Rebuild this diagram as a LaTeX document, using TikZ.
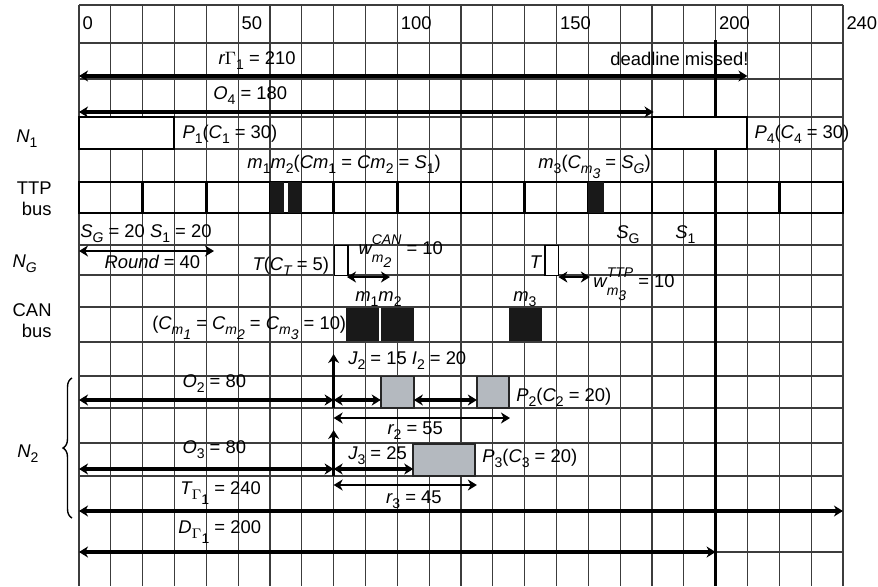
\documentclass[tikz,border=0pt]{standalone}
\usepackage{fontspec}
\setmainfont{Liberation Sans}
\usepackage{tikz}
\usetikzlibrary{arrows.meta, decorations.pathreplacing}
\definecolor{GridGray}{HTML}{3C3C3C}
\definecolor{JobGray}{HTML}{B4B9BF}
\newcommand{\subx}[1]{\raisebox{-0.6ex}{\fontsize{7}{7.5}\selectfont #1}}
\newcommand{\supsubx}[2]{\rlap{\raisebox{-0.9ex}{\fontsize{7}{7.5}\selectfont #2}}\raisebox{1.0ex}{\fontsize{7}{7.5}\selectfont #1}}

\begin{document}
\begin{tikzpicture}[
    x=1.5915pt, y=-0.5pt,
    font=\fontsize{9.2}{10.5}\selectfont,
    gridline/.style={GridGray, line width=0.6pt},
    slot/.style={draw=black, line width=1.3pt},
    task/.style={draw=black, line width=1pt, fill=white},
    job/.style={draw=black!85, line width=0.9pt, fill=JobGray},
    msg/.style={fill=black!90},
    arr/.style={<->, >={Stealth[length=4.5pt, width=5.5pt, inset=1.4pt]}, line width=1.7pt},
    uparr/.style={->, >={Stealth[length=4.5pt, width=5.5pt, inset=1.4pt]}, line width=1.7pt},
    lab/.style={anchor=base west, inner sep=0pt},
    side/.style={align=right, anchor=east, inner sep=0pt}
  ]
    \useasboundingbox (-24.82,0) rectangle (251.02,586);
    \fill[white] (-24.82,0) rectangle (251.02,586);

    % Grid
    \foreach \t in {0,10,...,240}
      \draw[gridline] (\t,5) -- (\t,586);
    \foreach \y in {5,43,79,117,149,182,213,245,275,307,342,376,408,443,476,511,552}
      \draw[gridline] (0,\y) -- (240,\y);

    % Time scale
    \foreach \t in {0,50,100,150,200,240}
      \node[lab] (hdr\t) at (\t+1,29) {\t};

    % Deadline
    \coordinate (dl0) at (200,40);
    \coordinate (dl1) at (200,586);
    \draw[line width=1.6pt] (dl0) -- (dl1);

    % Row labels
    \node[lab] (n1)  at (-19.8,142) {{\itshape N}\subx{1}};
    \node[side] (ttp) at (-8.5,199) {TTP\\bus};
    \node[lab] (ng)  at (-21.0,267) {{\itshape N}\subx{\itshape G}};
    \node[side] (can) at (-8.5,321) {CAN\\bus};
    \node[lab] (n2)  at (-19.5,457) {{\itshape N}\subx{2}};
    \coordinate (brb) at (-2.2,518);
    \coordinate (brt) at (-2.2,378);
    \draw[decorate, decoration={brace, amplitude=4.5pt}, line width=0.7pt] (brb) -- (brt);

    % N1: processes P1 and P4
    \draw[task] (0,117) rectangle (30,149);
    \draw[task] (180,117) rectangle (210,149);
    \node[lab] (lblP1) at (32.4,138)  {{\itshape P}\subx{1}({\itshape C}\subx{1} = 30)};
    \node[lab] (lblP4) at (212.1,138) {{\itshape P}\subx{4}({\itshape C}\subx{4} = 30)};

    % TTP bus: slots S_G, S_1
    \foreach \s in {0,20,...,220}
      \draw[slot] (\s,182) rectangle ++(20,31);
    \fill[msg] (60,182) rectangle (64.4,213);
    \fill[msg] (65.6,182) rectangle (70,213);
    \fill[msg] (160,182) rectangle (165,213);
    \node[lab] (lblM12) at (52.8,168)
      {{\itshape m}\subx{1}{\itshape m}\subx{2}({\itshape Cm}\subx{1} = {\itshape Cm}\subx{2} = {\itshape S}\subx{1})};
    \node[lab] (lblM3) at (144.2,168)
      {{\itshape m}\subx{3}({\itshape C}\subx{\itshape m\subx{3}} = {\itshape S}\subx{\itshape G})};
    \node[lab] (lblSlots) at (0.3,237) {{\itshape S}\subx{\itshape G} = 20 {\itshape S}\subx{1} = 20};
    \node[lab] (lblSG) at (168.7,238) {{\itshape S}\subx{G}};
    \node[lab] (lblS1) at (187.2,238) {{\itshape S}\subx{1}};

    % N_G: gateway task T
    \draw[task, line width=0.8pt] (80.3,245.5) rectangle (84.5,275.5);
    \draw[task, line width=0.8pt] (146.4,245.5) rectangle (150.6,275.5);
    \node[lab] (lblRound) at (7.9,268) {{\itshape Round} = 40};
    \node[lab] (lblTC) at (54.4,270) {{\itshape T}({\itshape C}\subx{\itshape T} = 5)};
    \node[lab] (lblWcan) at (87.7,254) {{\itshape w}\supsubx{\itshape CAN}{\itshape m\subx{2}} = 10};
    \node[lab] (lblT) at (141.5,268) {{\itshape T}};
    \node[lab] (lblWttp) at (161.5,287) {{\itshape w}\supsubx{\itshape TTP}{\itshape m\subx{3}} = 10};

    % CAN bus: frames
    \fill[msg] (83.8,307.5) rectangle (94.2,341);
    \fill[msg] (94.8,307.5) rectangle (105.2,341);
    \fill[msg] (135,307.5) rectangle (145.6,341);
    \node[lab] (lblCm12) at (86.7,301) {{\itshape m}\subx{1}{\itshape m}\subx{2}};
    \node[lab] (lblCm3) at (136.3,301) {{\itshape m}\subx{3}};
    \node[lab] (lblCcan) at (22.9,329)
      {({\itshape C}\subx{\itshape m\subx{1}} = {\itshape C}\subx{\itshape m\subx{2}} = {\itshape C}\subx{\itshape m\subx{3}} = 10)};

    % N2: processes P2 and P3
    \draw[job] (94.8,376.5) rectangle (105.2,408);
    \draw[job] (125,376.5) rectangle (135,408);
    \draw[job] (105,444) rectangle (124.5,476);
    \node[lab] (lblJ2) at (84.5,364) {{\itshape J}\subx{2} = 15 {\itshape I}\subx{2} = 20};
    \node[lab] (lblO2) at (32.4,387) {{\itshape O}\subx{2} = 80};
    \node[lab] (lblP2) at (137.3,401) {{\itshape P}\subx{2}({\itshape C}\subx{2} = 20)};
    \node[lab] (lblR2) at (96.8,434) {{\itshape r}\subx{2} = 55};
    \node[lab] (lblO3) at (32.4,453) {{\itshape O}\subx{3} = 80};
    \node[lab] (lblJ3) at (84.5,459) {{\itshape J}\subx{3} = 25};
    \node[lab] (lblP3) at (126.6,462) {{\itshape P}\subx{3}({\itshape C}\subx{3} = 20)};
    \node[lab] (lblR3) at (96.4,503) {{\itshape r}\subx{3} = 45};
    \node[lab] (lblT1) at (31.7,494) {{\itshape T}\subx{$\Gamma$\subx{1}} = 240};
    \node[lab] (lblD1) at (31.1,533) {{\itshape D}\subx{$\Gamma$\subx{1}} = 200};

    % Top labels
    \node[lab] (lblR) at (43.7,64) {{\itshape r}$\Gamma$\subx{1} = 210};
    \node[lab] (lblMiss) at (166.8,65) {deadline missed!};
    \node[lab] (lblO4) at (42.1,99) {{\itshape O}\subx{4} = 180};

    % Arrows
    \coordinate (rg0) at (0,76);     \coordinate (rg1) at (210,76);
    \coordinate (o40) at (0,112);    \coordinate (o41) at (180.5,112);
    \coordinate (rd0) at (0,251);    \coordinate (rd1) at (42.4,251);
    \coordinate (wc0) at (84.2,277); \coordinate (wc1) at (97.7,277);
    \coordinate (wt0) at (150.6,277);\coordinate (wt1) at (160.5,277);
    \coordinate (o20) at (0,400);    \coordinate (o21) at (80,400);
    \coordinate (j21) at (94.8,400);
    \coordinate (i20) at (105.2,400);\coordinate (i21) at (125,400);
    \coordinate (r20) at (80,418);   \coordinate (r21) at (135.4,418);
    \coordinate (o30) at (0,469);    \coordinate (o31) at (80,469);
    \coordinate (j31) at (105,469);
    \coordinate (r30) at (80,485);   \coordinate (r31) at (125,485);
    \coordinate (tg0) at (0,511);    \coordinate (tg1) at (240,511);
    \coordinate (dg0) at (0,552);    \coordinate (dg1) at (200,552);
    \coordinate (ja0) at (80,408);   \coordinate (ja1) at (80,354);
    \coordinate (jb0) at (80,476);   \coordinate (jb1) at (80,430);

    \draw[arr] (rg0) -- (rg1);
    \draw[arr] (o40) -- (o41);
    \draw[arr, line width=1.4pt] (rd0) -- (rd1);
    \draw[arr, line width=1.4pt] (wc0) -- (wc1);
    \draw[arr, line width=1.4pt] (wt0) -- (wt1);
    \draw[arr] (o20) -- (o21);
    \draw[arr] (o21) -- (j21);
    \draw[arr] (i20) -- (i21);
    \draw[arr, line width=1.4pt] (r20) -- (r21);
    \draw[arr] (o30) -- (o31);
    \draw[arr] (o31) -- (j31);
    \draw[arr, line width=1.4pt] (r30) -- (r31);
    \draw[arr] (tg0) -- (tg1);
    \draw[arr] (dg0) -- (dg1);
    \draw[uparr] (ja0) -- (ja1);
    \draw[uparr] (jb0) -- (jb1);
\end{tikzpicture}
\end{document}
